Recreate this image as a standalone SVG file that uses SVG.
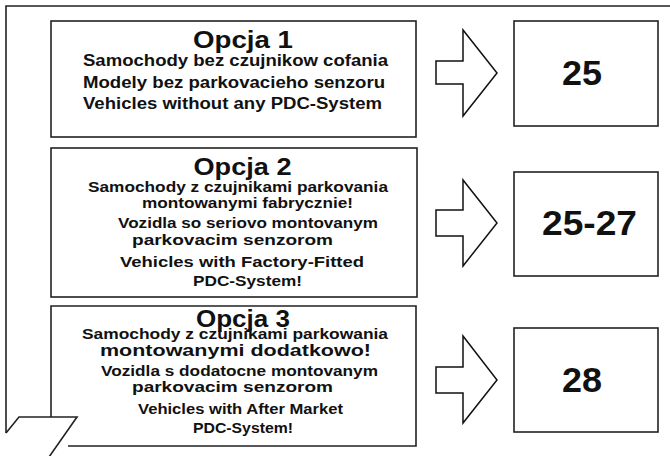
<svg xmlns="http://www.w3.org/2000/svg" width="670" height="456" viewBox="0 0 670 456">
<style>
.ln{fill:none;stroke:#222;stroke-width:1.6}
.box{fill:#fff;stroke:#222;stroke-width:1.6}
.arr{fill:#fff;stroke:#111;stroke-width:1.5;stroke-linejoin:miter}
text{font-family:"Liberation Sans",Arial,Helvetica,sans-serif;font-weight:bold;fill:#111}
.t{font-size:23px;text-anchor:middle}
.a{font-size:16px}
.b{font-size:15px}
.n{font-size:35px;text-anchor:middle}
</style>
<rect width="670" height="456" fill="#fff"/>
<g id="opcja1">
<rect class="box" x="51" y="21" width="365" height="116"/>
<text class="t" x="243" y="47.5" textLength="100" lengthAdjust="spacingAndGlyphs">Opcja 1</text>
<text class="a" x="83" y="66" textLength="305" lengthAdjust="spacingAndGlyphs">Samochody bez czujnikow cofania</text>
<text class="a" x="83" y="88" textLength="302" lengthAdjust="spacingAndGlyphs">Modely bez parkovacieho senzoru</text>
<text class="a" x="83" y="109" textLength="299" lengthAdjust="spacingAndGlyphs">Vehicles without any PDC-System</text>
</g>
<g id="opcja2">
<rect class="box" x="51" y="148" width="366" height="149"/>
<text class="t" x="242.5" y="175" textLength="98" lengthAdjust="spacingAndGlyphs">Opcja 2</text>
<text class="b" x="88" y="192" textLength="300" lengthAdjust="spacingAndGlyphs">Samochody z czujnikami parkovania</text>
<text class="b" x="142" y="208" textLength="211" lengthAdjust="spacingAndGlyphs">montowanymi fabrycznie!</text>
<text class="b" x="118" y="228" textLength="260" lengthAdjust="spacingAndGlyphs">Vozidla so seriovo montovanym</text>
<text class="b" x="132" y="245" textLength="201" lengthAdjust="spacingAndGlyphs">parkovacim senzorom</text>
<text class="b" x="120" y="267" textLength="244" lengthAdjust="spacingAndGlyphs">Vehicles with Factory-Fitted</text>
<text class="b" x="193" y="286" textLength="109" lengthAdjust="spacingAndGlyphs">PDC-System!</text>
</g>
<g id="opcja3">
<path class="ln" d="M51,417 V306 H416 V446 H68"/>
<text class="t" x="243" y="327" textLength="94" lengthAdjust="spacingAndGlyphs">Opcja 3</text>
<text class="b" x="82" y="339" textLength="306" lengthAdjust="spacingAndGlyphs">Samochody z czujnikami parkowania</text>
<text class="a" x="100" y="356" textLength="271" lengthAdjust="spacingAndGlyphs">montowanymi dodatkowo!</text>
<text class="b" x="101" y="376" textLength="277" lengthAdjust="spacingAndGlyphs">Vozidla s dodatocne montovanym</text>
<text class="b" x="132" y="392" textLength="201" lengthAdjust="spacingAndGlyphs">parkovacim senzorom</text>
<text class="b" x="138" y="414" textLength="205" lengthAdjust="spacingAndGlyphs">Vehicles with After Market</text>
<text class="b" x="193" y="433" textLength="100" lengthAdjust="spacingAndGlyphs">PDC-System!</text>
</g>
<g id="frame">
<path class="ln" d="M670,6 H6 V433"/>
<path class="ln" d="M6,433 L19,417 H77 L49,457"/>
</g>
<g id="r25">
<rect class="box" x="514" y="21" width="144" height="105"/>
<text class="n" x="582" y="85" textLength="40" lengthAdjust="spacingAndGlyphs">25</text>
</g>
<g id="r2527">
<rect class="box" x="514" y="172" width="144" height="104"/>
<text class="n" x="589.5" y="235" textLength="95" lengthAdjust="spacingAndGlyphs">25-27</text>
</g>
<g id="r28">
<rect class="box" x="514" y="328" width="144" height="104"/>
<text class="n" x="582" y="392" textLength="40" lengthAdjust="spacingAndGlyphs">28</text>
</g>
<g id="connectors">
<polygon class="arr" points="436,61 463,61 463,30 497,73 463,116 463,84 436,84"/>
<polygon class="arr" points="436,210 463,210 463,180 497,223 463,266 463,236 436,236"/>
<polygon class="arr" points="436,367 463,367 463,336 497,380 463,423 463,393 436,393"/>
</g>
</svg>
